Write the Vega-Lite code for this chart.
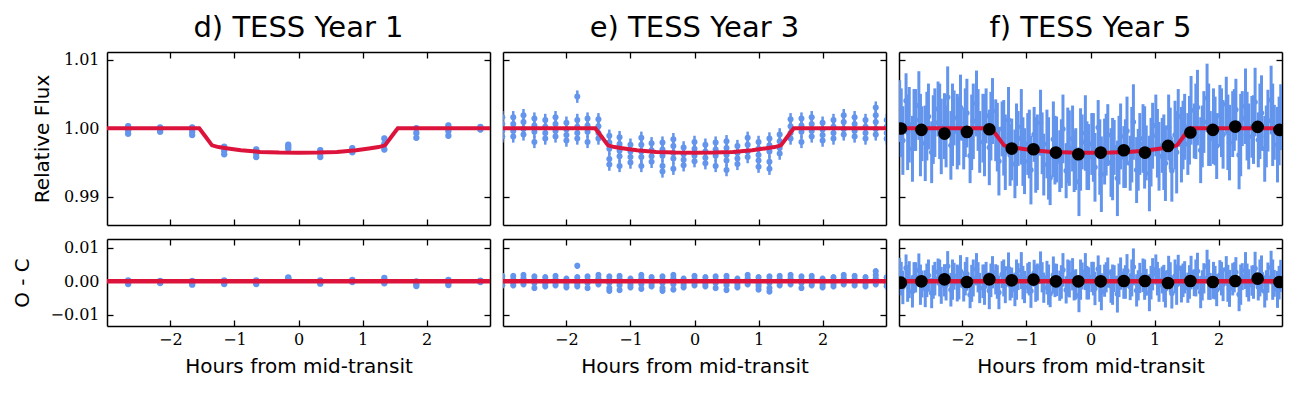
{
"$schema":"https://vega.github.io/schema/vega-lite/v6.json",
"background":"white",
"padding":{"left":12,"top":14,"right":10,"bottom":5},
"datasets":{
"model":[{"x":-3.0,"f":1.0,"r":0},{"x":-1.55,"f":1.0,"r":0},{"x":-1.45,"f":0.99875,"r":0},{"x":-1.35,"f":0.9975,"r":0},{"x":-1.25,"f":0.99725,"r":0},{"x":-1.1,"f":0.99705,"r":0},{"x":-0.9,"f":0.9968,"r":0},{"x":-0.6,"f":0.99655,"r":0},{"x":-0.3,"f":0.99645,"r":0},{"x":0,"f":0.99642,"r":0},{"x":0.3,"f":0.99645,"r":0},{"x":0.6,"f":0.99655,"r":0},{"x":0.9,"f":0.9968,"r":0},{"x":1.1,"f":0.99705,"r":0},{"x":1.25,"f":0.99725,"r":0},{"x":1.35,"f":0.9975,"r":0},{"x":1.45,"f":0.99875,"r":0},{"x":1.55,"f":1.0,"r":0},{"x":3.0,"f":1.0,"r":0}],
"y1":[{"x":-2.66,"f":1.0003,"r":0.0003,"e":0.0004},{"x":-2.66,"f":0.9997,"r":-0.0003,"e":0.0004},{"x":-2.66,"f":0.9992,"r":-0.0008,"e":0.0004},
{"x":-2.16,"f":1.0001,"r":0.0001,"e":0.0004},{"x":-2.16,"f":0.9998,"r":-0.0002,"e":0.0004},{"x":-2.16,"f":0.9995,"r":-0.0005,"e":0.0004},
{"x":-1.66,"f":1.0001,"r":0.0001,"e":0.0004},{"x":-1.66,"f":0.9995,"r":-0.0005,"e":0.0004},{"x":-1.66,"f":0.999,"r":-0.001,"e":0.0004},
{"x":-1.16,"f":0.9973,"r":0.0003,"e":0.0004},{"x":-1.16,"f":0.9967,"r":-0.0003,"e":0.0004},{"x":-1.16,"f":0.9962,"r":-0.0008,"e":0.0004},
{"x":-0.66,"f":0.9969,"r":0.0003,"e":0.0004},{"x":-0.66,"f":0.9963,"r":-0.0003,"e":0.0004},{"x":-0.66,"f":0.9958,"r":-0.0008,"e":0.0004},
{"x":-0.16,"f":0.9976,"r":0.0012,"e":0.0004},{"x":-0.16,"f":0.9973,"r":0.0009,"e":0.0004},{"x":-0.16,"f":0.997,"r":0.0006,"e":0.0004},
{"x":0.34,"f":0.9968,"r":0.0003,"e":0.0004},{"x":0.34,"f":0.9963,"r":-0.0002,"e":0.0004},{"x":0.34,"f":0.9958,"r":-0.0007,"e":0.0004},
{"x":0.84,"f":0.9971,"r":0.0004,"e":0.0004},{"x":0.84,"f":0.9968,"r":0.0001,"e":0.0004},{"x":0.84,"f":0.9965,"r":-0.0002,"e":0.0004},
{"x":1.34,"f":0.9985,"r":0.001,"e":0.0004},{"x":1.34,"f":0.9977,"r":0.0002,"e":0.0004},{"x":1.34,"f":0.9969,"r":-0.0006,"e":0.0004},
{"x":1.84,"f":1.0,"r":0.0,"e":0.0004},{"x":1.84,"f":0.9993,"r":-0.0007,"e":0.0004},{"x":1.84,"f":0.9986,"r":-0.0014,"e":0.0004},
{"x":2.34,"f":1.0004,"r":0.0004,"e":0.0004},{"x":2.34,"f":0.9996,"r":-0.0004,"e":0.0004},{"x":2.34,"f":0.9989,"r":-0.0011,"e":0.0004},
{"x":2.84,"f":1.0002,"r":0.0002,"e":0.0004},{"x":2.84,"f":1.0,"r":0.0,"e":0.0004},{"x":2.84,"f":0.9998,"r":-0.0002,"e":0.0004}],
"y3":[
{"x":-3,"f":1.0016,"r":0.0016,"e":0.0009},{"x":-3,"f":1.0006,"r":0.0006,"e":0.0009},{"x":-3,"f":0.9996,"r":-0.0004,"e":0.0009},{"x":-3,"f":0.9988,"r":-0.0012,"e":0.0009},
{"x":-2.83,"f":1.0016,"r":0.0016,"e":0.0009},{"x":-2.83,"f":1.0006,"r":0.0006,"e":0.0009},{"x":-2.83,"f":0.9996,"r":-0.0004,"e":0.0009},{"x":-2.83,"f":0.9988,"r":-0.0012,"e":0.0009},
{"x":-2.67,"f":1.0019,"r":0.0019,"e":0.0009},{"x":-2.67,"f":1.0009,"r":0.0009,"e":0.0009},{"x":-2.67,"f":0.9999,"r":-0.0001,"e":0.0009},{"x":-2.67,"f":0.9991,"r":-0.0009,"e":0.0009},
{"x":-2.5,"f":1.0014,"r":0.0014,"e":0.0009},{"x":-2.5,"f":1.0004,"r":0.0004,"e":0.0009},{"x":-2.5,"f":0.9995,"r":-0.0005,"e":0.0009},{"x":-2.5,"f":0.998,"r":-0.002,"e":0.0009},
{"x":-2.33,"f":1.0012,"r":0.0012,"e":0.0009},{"x":-2.33,"f":1.0002,"r":0.0002,"e":0.0009},{"x":-2.33,"f":0.9993,"r":-0.0007,"e":0.0009},{"x":-2.33,"f":0.9985,"r":-0.0015,"e":0.0009},
{"x":-2.17,"f":1.0016,"r":0.0016,"e":0.0009},{"x":-2.17,"f":1.0006,"r":0.0006,"e":0.0009},{"x":-2.17,"f":0.9996,"r":-0.0004,"e":0.0009},{"x":-2.17,"f":0.9988,"r":-0.0012,"e":0.0009},
{"x":-2.0,"f":1.0008,"r":0.0008,"e":0.0009},{"x":-2.0,"f":0.9998,"r":-0.0002,"e":0.0009},{"x":-2.0,"f":0.999,"r":-0.001,"e":0.0009},{"x":-2.0,"f":0.9982,"r":-0.0018,"e":0.0009},
{"x":-1.83,"f":1.0012,"r":0.0012,"e":0.0009},{"x":-1.83,"f":1.0002,"r":0.0002,"e":0.0009},{"x":-1.83,"f":0.9993,"r":-0.0007,"e":0.0009},{"x":-1.83,"f":0.9985,"r":-0.0015,"e":0.0009},{"x":-1.83,"f":1.0046,"r":0.0046,"e":0.0009},
{"x":-1.67,"f":1.0014,"r":0.0014,"e":0.0009},{"x":-1.67,"f":1.0004,"r":0.0004,"e":0.0009},{"x":-1.67,"f":0.9995,"r":-0.0005,"e":0.0009},{"x":-1.67,"f":0.998,"r":-0.002,"e":0.0009},
{"x":-1.5,"f":1.0013,"r":0.0019,"e":0.0009},{"x":-1.5,"f":1.0003,"r":0.0009,"e":0.0009},{"x":-1.5,"f":0.9993,"r":-0.0001,"e":0.0009},{"x":-1.5,"f":0.9985,"r":-0.0009,"e":0.0009},
{"x":-1.33,"f":0.9989,"r":0.0014,"e":0.0009},{"x":-1.33,"f":0.9979,"r":0.0004,"e":0.0009},{"x":-1.33,"f":0.997,"r":-0.0005,"e":0.0009},{"x":-1.33,"f":0.9955,"r":-0.002,"e":0.0009},{"x":-1.33,"f":0.9947,"r":-0.0028,"e":0.0009},
{"x":-1.17,"f":0.9987,"r":0.0016,"e":0.0009},{"x":-1.17,"f":0.9977,"r":0.0006,"e":0.0009},{"x":-1.17,"f":0.9967,"r":-0.0004,"e":0.0009},{"x":-1.17,"f":0.9959,"r":-0.0012,"e":0.0009},{"x":-1.17,"f":0.9945,"r":-0.0026,"e":0.0009},
{"x":-1.0,"f":0.9976,"r":0.0008,"e":0.0009},{"x":-1.0,"f":0.9966,"r":-0.0002,"e":0.0009},{"x":-1.0,"f":0.9958,"r":-0.001,"e":0.0009},{"x":-1.0,"f":0.995,"r":-0.0018,"e":0.0009},
{"x":-0.83,"f":0.9986,"r":0.0019,"e":0.0009},{"x":-0.83,"f":0.9976,"r":0.0009,"e":0.0009},{"x":-0.83,"f":0.9966,"r":-0.0001,"e":0.0009},{"x":-0.83,"f":0.9958,"r":-0.0009,"e":0.0009},{"x":-0.83,"f":0.9945,"r":-0.0022,"e":0.0009},
{"x":-0.67,"f":0.9978,"r":0.0012,"e":0.0009},{"x":-0.67,"f":0.9968,"r":0.0002,"e":0.0009},{"x":-0.67,"f":0.9959,"r":-0.0007,"e":0.0009},{"x":-0.67,"f":0.9951,"r":-0.0015,"e":0.0009},
{"x":-0.5,"f":0.9979,"r":0.0014,"e":0.0009},{"x":-0.5,"f":0.9969,"r":0.0004,"e":0.0009},{"x":-0.5,"f":0.996,"r":-0.0005,"e":0.0009},{"x":-0.5,"f":0.9945,"r":-0.002,"e":0.0009},{"x":-0.5,"f":0.9937,"r":-0.0028,"e":0.0009},
{"x":-0.33,"f":0.9984,"r":0.0019,"e":0.0009},{"x":-0.33,"f":0.9974,"r":0.0009,"e":0.0009},{"x":-0.33,"f":0.9964,"r":-0.0001,"e":0.0009},{"x":-0.33,"f":0.9956,"r":-0.0009,"e":0.0009},{"x":-0.33,"f":0.9941,"r":-0.0024,"e":0.0009},
{"x":-0.17,"f":0.9972,"r":0.0008,"e":0.0009},{"x":-0.17,"f":0.9962,"r":-0.0002,"e":0.0009},{"x":-0.17,"f":0.9954,"r":-0.001,"e":0.0009},{"x":-0.17,"f":0.9946,"r":-0.0018,"e":0.0009},
{"x":0.0,"f":0.998,"r":0.0016,"e":0.0009},{"x":0.0,"f":0.997,"r":0.0006,"e":0.0009},{"x":0.0,"f":0.996,"r":-0.0004,"e":0.0009},{"x":0.0,"f":0.9952,"r":-0.0012,"e":0.0009},
{"x":0.17,"f":0.9976,"r":0.0012,"e":0.0009},{"x":0.17,"f":0.9966,"r":0.0002,"e":0.0009},{"x":0.17,"f":0.9957,"r":-0.0007,"e":0.0009},{"x":0.17,"f":0.9949,"r":-0.0015,"e":0.0009},
{"x":0.33,"f":0.9979,"r":0.0014,"e":0.0009},{"x":0.33,"f":0.9969,"r":0.0004,"e":0.0009},{"x":0.33,"f":0.996,"r":-0.0005,"e":0.0009},{"x":0.33,"f":0.9945,"r":-0.002,"e":0.0009},
{"x":0.5,"f":0.9981,"r":0.0016,"e":0.0009},{"x":0.5,"f":0.9971,"r":0.0006,"e":0.0009},{"x":0.5,"f":0.9961,"r":-0.0004,"e":0.0009},{"x":0.5,"f":0.9953,"r":-0.0012,"e":0.0009},{"x":0.5,"f":0.9939,"r":-0.0026,"e":0.0009},
{"x":0.67,"f":0.9974,"r":0.0008,"e":0.0009},{"x":0.67,"f":0.9964,"r":-0.0002,"e":0.0009},{"x":0.67,"f":0.9956,"r":-0.001,"e":0.0009},{"x":0.67,"f":0.9948,"r":-0.0018,"e":0.0009},
{"x":0.83,"f":0.9986,"r":0.0019,"e":0.0009},{"x":0.83,"f":0.9976,"r":0.0009,"e":0.0009},{"x":0.83,"f":0.9966,"r":-0.0001,"e":0.0009},{"x":0.83,"f":0.9958,"r":-0.0009,"e":0.0009},
{"x":1.0,"f":0.998,"r":0.0012,"e":0.0009},{"x":1.0,"f":0.997,"r":0.0002,"e":0.0009},{"x":1.0,"f":0.9961,"r":-0.0007,"e":0.0009},{"x":1.0,"f":0.9953,"r":-0.0015,"e":0.0009},{"x":1.0,"f":0.9944,"r":-0.0024,"e":0.0009},
{"x":1.17,"f":0.9985,"r":0.0014,"e":0.0009},{"x":1.17,"f":0.9975,"r":0.0004,"e":0.0009},{"x":1.17,"f":0.9966,"r":-0.0005,"e":0.0009},{"x":1.17,"f":0.9951,"r":-0.002,"e":0.0009},{"x":1.17,"f":0.9941,"r":-0.003,"e":0.0009},
{"x":1.33,"f":0.9991,"r":0.0016,"e":0.0009},{"x":1.33,"f":0.9981,"r":0.0006,"e":0.0009},{"x":1.33,"f":0.9971,"r":-0.0004,"e":0.0009},{"x":1.33,"f":0.9963,"r":-0.0012,"e":0.0009},
{"x":1.5,"f":1.0013,"r":0.0019,"e":0.0009},{"x":1.5,"f":1.0003,"r":0.0009,"e":0.0009},{"x":1.5,"f":0.9993,"r":-0.0001,"e":0.0009},{"x":1.5,"f":0.9985,"r":-0.0009,"e":0.0009},
{"x":1.67,"f":1.0014,"r":0.0014,"e":0.0009},{"x":1.67,"f":1.0004,"r":0.0004,"e":0.0009},{"x":1.67,"f":0.9995,"r":-0.0005,"e":0.0009},{"x":1.67,"f":0.998,"r":-0.002,"e":0.0009},
{"x":1.83,"f":1.0016,"r":0.0016,"e":0.0009},{"x":1.83,"f":1.0006,"r":0.0006,"e":0.0009},{"x":1.83,"f":0.9996,"r":-0.0004,"e":0.0009},{"x":1.83,"f":0.9988,"r":-0.0012,"e":0.0009},
{"x":2.0,"f":1.0008,"r":0.0008,"e":0.0009},{"x":2.0,"f":0.9998,"r":-0.0002,"e":0.0009},{"x":2.0,"f":0.999,"r":-0.001,"e":0.0009},{"x":2.0,"f":0.9982,"r":-0.0018,"e":0.0009},
{"x":2.17,"f":1.0012,"r":0.0012,"e":0.0009},{"x":2.17,"f":1.0002,"r":0.0002,"e":0.0009},{"x":2.17,"f":0.9993,"r":-0.0007,"e":0.0009},{"x":2.17,"f":0.9985,"r":-0.0015,"e":0.0009},
{"x":2.33,"f":1.0019,"r":0.0019,"e":0.0009},{"x":2.33,"f":1.0009,"r":0.0009,"e":0.0009},{"x":2.33,"f":0.9999,"r":-0.0001,"e":0.0009},{"x":2.33,"f":0.9991,"r":-0.0009,"e":0.0009},
{"x":2.5,"f":1.0016,"r":0.0016,"e":0.0009},{"x":2.5,"f":1.0006,"r":0.0006,"e":0.0009},{"x":2.5,"f":0.9996,"r":-0.0004,"e":0.0009},{"x":2.5,"f":0.9988,"r":-0.0012,"e":0.0009},
{"x":2.67,"f":1.0012,"r":0.0012,"e":0.0009},{"x":2.67,"f":1.0002,"r":0.0002,"e":0.0009},{"x":2.67,"f":0.9993,"r":-0.0007,"e":0.0009},{"x":2.67,"f":0.9985,"r":-0.0015,"e":0.0009},
{"x":2.83,"f":1.0019,"r":0.0019,"e":0.0009},{"x":2.83,"f":1.0009,"r":0.0009,"e":0.0009},{"x":2.83,"f":0.9999,"r":-0.0001,"e":0.0009},{"x":2.83,"f":0.9991,"r":-0.0009,"e":0.0009},{"x":2.83,"f":1.003,"r":0.003,"e":0.0009},
{"x":3.0,"f":1.0012,"r":0.0012,"e":0.0009},{"x":3.0,"f":1.0002,"r":0.0002,"e":0.0009},{"x":3.0,"f":0.9993,"r":-0.0007,"e":0.0009},{"x":3.0,"f":0.9985,"r":-0.0015,"e":0.0009}],
"y5":[
{"x":-2.98,"f":1.0025,"r":0.0025,"e":0.0045},{"x":-2.93,"f":0.9982,"r":-0.0018,"e":0.005},{"x":-2.88,"f":1.004,"r":0.004,"e":0.004},{"x":-2.83,"f":1.0005,"r":0.0005,"e":0.0055},{"x":-2.78,"f":0.997,"r":-0.003,"e":0.0048},{"x":-2.73,"f":1.0012,"r":0.0012,"e":0.0045},{"x":-2.68,"f":1.0033,"r":0.0033,"e":0.005},{"x":-2.63,"f":0.9992,"r":-0.0008,"e":0.004},{"x":-2.58,"f":0.9978,"r":-0.0022,"e":0.0055},{"x":-2.53,"f":1.0017,"r":0.0017,"e":0.0048},
{"x":-2.48,"f":0.9965,"r":-0.0035,"e":0.0045},{"x":-2.43,"f":1.0008,"r":0.0008,"e":0.005},{"x":-2.38,"f":1.0028,"r":0.0028,"e":0.004},{"x":-2.33,"f":0.9988,"r":-0.0012,"e":0.0055},{"x":-2.28,"f":1.0003,"r":0.0003,"e":0.0048},{"x":-2.23,"f":1.0045,"r":0.0045,"e":0.0045},{"x":-2.18,"f":0.9975,"r":-0.0025,"e":0.005},{"x":-2.13,"f":1.0015,"r":0.0015,"e":0.004},{"x":-2.08,"f":0.9995,"r":-0.0005,"e":0.0055},{"x":-2.03,"f":1.003,"r":0.003,"e":0.0048},
{"x":-1.98,"f":0.9985,"r":-0.0015,"e":0.0045},{"x":-1.93,"f":1.0022,"r":0.0022,"e":0.005},{"x":-1.88,"f":0.996,"r":-0.004,"e":0.004},{"x":-1.83,"f":1.001,"r":0.001,"e":0.0055},{"x":-1.78,"f":1.0036,"r":0.0036,"e":0.0048},{"x":-1.73,"f":0.998,"r":-0.002,"e":0.0045},{"x":-1.68,"f":1.0,"r":0.0,"e":0.005},{"x":-1.63,"f":1.0018,"r":0.0018,"e":0.004},{"x":-1.58,"f":0.9972,"r":-0.0028,"e":0.0055},{"x":-1.53,"f":1.0025,"r":0.0027,"e":0.0048},
{"x":-1.48,"f":0.9997,"r":0.0006,"e":0.0045},{"x":-1.43,"f":0.9952,"r":-0.0033,"e":0.005},{"x":-1.38,"f":0.9999,"r":0.002,"e":0.004},{"x":-1.33,"f":0.9965,"r":-0.001,"e":0.0055},{"x":-1.28,"f":1.0012,"r":0.0038,"e":0.0048},{"x":-1.23,"f":0.9969,"r":-0.0004,"e":0.0045},{"x":-1.18,"f":0.9948,"r":-0.0024,"e":0.005},{"x":-1.13,"f":0.9985,"r":0.0014,"e":0.004},{"x":-1.08,"f":1.0002,"r":0.0032,"e":0.0055},{"x":-1.03,"f":0.9952,"r":-0.0017,"e":0.0048},
{"x":-0.98,"f":0.9977,"r":0.0009,"e":0.0045},{"x":-0.93,"f":0.9939,"r":-0.0029,"e":0.005},{"x":-0.88,"f":0.9991,"r":0.0024,"e":0.004},{"x":-0.83,"f":0.9965,"r":-0.0002,"e":0.0055},{"x":-0.78,"f":1.0008,"r":0.0041,"e":0.0048},{"x":-0.73,"f":0.9947,"r":-0.0019,"e":0.0045},{"x":-0.68,"f":0.9977,"r":0.0011,"e":0.005},{"x":-0.63,"f":0.9928,"r":-0.0037,"e":0.004},{"x":-0.58,"f":0.9984,"r":0.0019,"e":0.0055},{"x":-0.53,"f":0.9969,"r":0.0004,"e":0.0048},
{"x":-0.48,"f":0.9952,"r":-0.0013,"e":0.0045},{"x":-0.43,"f":0.9999,"r":0.0034,"e":0.005},{"x":-0.38,"f":0.9938,"r":-0.0026,"e":0.004},{"x":-0.33,"f":0.9971,"r":0.0007,"e":0.0055},{"x":-0.28,"f":0.9985,"r":0.0021,"e":0.0048},{"x":-0.23,"f":0.9955,"r":-0.0009,"e":0.0045},{"x":-0.18,"f":0.9922,"r":-0.0042,"e":0.005},{"x":-0.13,"f":0.998,"r":0.0016,"e":0.004},{"x":-0.08,"f":0.9993,"r":0.0029,"e":0.0055},{"x":-0.03,"f":0.9958,"r":-0.0006,"e":0.0048},
{"x":0.02,"f":0.9977,"r":0.0013,"e":0.0045},{"x":0.07,"f":0.9943,"r":-0.0021,"e":0.005},{"x":0.12,"f":1.0001,"r":0.0037,"e":0.004},{"x":0.17,"f":0.9933,"r":-0.0031,"e":0.0055},{"x":0.22,"f":0.9966,"r":0.0002,"e":0.0048},{"x":0.27,"f":0.999,"r":0.0026,"e":0.0045},{"x":0.32,"f":0.995,"r":-0.0014,"e":0.005},{"x":0.37,"f":0.9972,"r":0.0008,"e":0.004},{"x":0.42,"f":0.9927,"r":-0.0038,"e":0.0055},{"x":0.47,"f":0.9988,"r":0.0023,"e":0.0048},
{"x":0.52,"f":0.9958,"r":-0.0007,"e":0.0045},{"x":0.57,"f":0.9996,"r":0.0031,"e":0.005},{"x":0.62,"f":0.9949,"r":-0.0016,"e":0.004},{"x":0.67,"f":1.0009,"r":0.0043,"e":0.0055},{"x":0.72,"f":0.9939,"r":-0.0027,"e":0.0048},{"x":0.77,"f":0.9977,"r":0.001,"e":0.0045},{"x":0.82,"f":0.9985,"r":0.0018,"e":0.005},{"x":0.87,"f":0.9964,"r":-0.0003,"e":0.004},{"x":0.92,"f":0.9934,"r":-0.0034,"e":0.0055},{"x":0.97,"f":0.9989,"r":0.0021,"e":0.0048},
{"x":1.02,"f":1.0004,"r":0.0035,"e":0.0045},{"x":1.07,"f":0.9959,"r":-0.0011,"e":0.005},{"x":1.12,"f":0.9975,"r":0.0004,"e":0.004},{"x":1.17,"f":0.9949,"r":-0.0023,"e":0.0055},{"x":1.22,"f":1.0001,"r":0.0028,"e":0.0048},{"x":1.27,"f":0.9938,"r":-0.0036,"e":0.0045},{"x":1.32,"f":0.999,"r":0.0015,"e":0.005},{"x":1.37,"f":1.0017,"r":0.0039,"e":0.004},{"x":1.42,"f":0.9976,"r":-0.0008,"e":0.0055},{"x":1.47,"f":1.0002,"r":0.0012,"e":0.0048},
{"x":1.52,"f":0.9977,"r":-0.0019,"e":0.0045},{"x":1.57,"f":1.0026,"r":0.0026,"e":0.005},{"x":1.62,"f":0.9996,"r":-0.0004,"e":0.004},{"x":1.67,"f":1.003,"r":0.003,"e":0.0055},{"x":1.72,"f":0.9968,"r":-0.0032,"e":0.0048},{"x":1.77,"f":1.0009,"r":0.0009,"e":0.0045},{"x":1.82,"f":1.0044,"r":0.0044,"e":0.005},{"x":1.87,"f":0.9985,"r":-0.0015,"e":0.004},{"x":1.92,"f":1.0003,"r":0.0003,"e":0.0055},{"x":1.97,"f":0.9974,"r":-0.0026,"e":0.0048},
{"x":2.02,"f":1.0018,"r":0.0018,"e":0.0045},{"x":2.07,"f":0.9991,"r":-0.0009,"e":0.005},{"x":2.12,"f":1.0035,"r":0.0035,"e":0.004},{"x":2.17,"f":0.9979,"r":-0.0021,"e":0.0055},{"x":2.22,"f":1.0006,"r":0.0006,"e":0.0048},{"x":2.27,"f":1.0027,"r":0.0027,"e":0.0045},{"x":2.32,"f":0.9961,"r":-0.0039,"e":0.005},{"x":2.37,"f":1.0014,"r":0.0014,"e":0.004},{"x":2.42,"f":1.0032,"r":0.0032,"e":0.0055},{"x":2.47,"f":0.9988,"r":-0.0012,"e":0.0048},
{"x":2.52,"f":1.0002,"r":0.0002,"e":0.0045},{"x":2.57,"f":1.0038,"r":0.0038,"e":0.005},{"x":2.62,"f":0.9983,"r":-0.0017,"e":0.004},{"x":2.67,"f":1.0022,"r":0.0022,"e":0.0055},{"x":2.72,"f":0.997,"r":-0.003,"e":0.0048},{"x":2.77,"f":1.0011,"r":0.0011,"e":0.0045},{"x":2.82,"f":1.0041,"r":0.0041,"e":0.005},{"x":2.87,"f":0.9994,"r":-0.0006,"e":0.004},{"x":2.92,"f":0.9976,"r":-0.0024,"e":0.0055},{"x":2.97,"f":1.0016,"r":0.0016,"e":0.0048},
{"x":-2.955,"f":1.0008,"r":0.0008,"e":0.005},{"x":-2.855,"f":0.9994,"r":-0.0006,"e":0.0055},{"x":-2.755,"f":1.0012,"r":0.0012,"e":0.0045},{"x":-2.655,"f":0.999,"r":-0.001,"e":0.006},{"x":-2.555,"f":1.0003,"r":0.0003,"e":0.005},
{"x":-2.455,"f":0.9998,"r":-0.0002,"e":0.005},{"x":-2.355,"f":1.001,"r":0.001,"e":0.0055},{"x":-2.255,"f":0.9988,"r":-0.0012,"e":0.0045},{"x":-2.155,"f":1.0005,"r":0.0005,"e":0.006},{"x":-2.055,"f":0.9996,"r":-0.0004,"e":0.005},
{"x":-1.955,"f":1.0008,"r":0.0008,"e":0.005},{"x":-1.855,"f":0.9994,"r":-0.0006,"e":0.0055},{"x":-1.755,"f":1.0012,"r":0.0012,"e":0.0045},{"x":-1.655,"f":0.999,"r":-0.001,"e":0.006},{"x":-1.555,"f":1.0003,"r":0.0003,"e":0.005},
{"x":-1.455,"f":0.9987,"r":-0.0002,"e":0.005},{"x":-1.355,"f":0.9986,"r":0.001,"e":0.0055},{"x":-1.255,"f":0.9961,"r":-0.0012,"e":0.0045},{"x":-1.155,"f":0.9976,"r":0.0005,"e":0.006},{"x":-1.055,"f":0.9966,"r":-0.0004,"e":0.005},
{"x":-0.955,"f":0.9977,"r":0.0008,"e":0.005},{"x":-0.855,"f":0.9961,"r":-0.0006,"e":0.0055},{"x":-0.755,"f":0.9978,"r":0.0012,"e":0.0045},{"x":-0.655,"f":0.9956,"r":-0.001,"e":0.006},{"x":-0.555,"f":0.9968,"r":0.0003,"e":0.005},
{"x":-0.455,"f":0.9963,"r":-0.0002,"e":0.005},{"x":-0.355,"f":0.9975,"r":0.001,"e":0.0055},{"x":-0.255,"f":0.9952,"r":-0.0012,"e":0.0045},{"x":-0.155,"f":0.9969,"r":0.0005,"e":0.006},{"x":-0.055,"f":0.996,"r":-0.0004,"e":0.005},
{"x":0.045,"f":0.9972,"r":0.0008,"e":0.005},{"x":0.145,"f":0.9958,"r":-0.0006,"e":0.0055},{"x":0.245,"f":0.9976,"r":0.0012,"e":0.0045},{"x":0.345,"f":0.9955,"r":-0.001,"e":0.006},{"x":0.445,"f":0.9968,"r":0.0003,"e":0.005},
{"x":0.545,"f":0.9963,"r":-0.0002,"e":0.005},{"x":0.645,"f":0.9976,"r":0.001,"e":0.0055},{"x":0.745,"f":0.9954,"r":-0.0012,"e":0.0045},{"x":0.845,"f":0.9972,"r":0.0005,"e":0.006},{"x":0.945,"f":0.9965,"r":-0.0004,"e":0.005},
{"x":1.045,"f":0.9978,"r":0.0008,"e":0.005},{"x":1.145,"f":0.9965,"r":-0.0006,"e":0.0055},{"x":1.245,"f":0.9985,"r":0.0012,"e":0.0045},{"x":1.345,"f":0.9965,"r":-0.001,"e":0.006},{"x":1.445,"f":0.999,"r":0.0003,"e":0.005},
{"x":1.545,"f":0.9997,"r":-0.0002,"e":0.005},{"x":1.645,"f":1.001,"r":0.001,"e":0.0055},{"x":1.745,"f":0.9988,"r":-0.0012,"e":0.0045},{"x":1.845,"f":1.0005,"r":0.0005,"e":0.006},{"x":1.945,"f":0.9996,"r":-0.0004,"e":0.005},
{"x":2.045,"f":1.0008,"r":0.0008,"e":0.005},{"x":2.145,"f":0.9994,"r":-0.0006,"e":0.0055},{"x":2.245,"f":1.0012,"r":0.0012,"e":0.0045},{"x":2.345,"f":0.999,"r":-0.001,"e":0.006},{"x":2.445,"f":1.0003,"r":0.0003,"e":0.005},
{"x":2.545,"f":0.9998,"r":-0.0002,"e":0.005},{"x":2.645,"f":1.001,"r":0.001,"e":0.0055},{"x":2.745,"f":0.9988,"r":-0.0012,"e":0.0045},{"x":2.845,"f":1.0005,"r":0.0005,"e":0.006},{"x":2.945,"f":0.9996,"r":-0.0004,"e":0.005}],
"y5b":[{"x":-2.96,"f":0.99995,"r":-0.0004},{"x":-2.64,"f":0.99976,"r":0},{"x":-2.28,"f":0.99922,"r":0.0006},{"x":-1.93,"f":0.99946,"r":-0.0002},{"x":-1.58,"f":0.99985,"r":0.0006},{"x":-1.23,"f":0.99703,"r":0.0003},{"x":-0.89,"f":0.99693,"r":0.0005},{"x":-0.54,"f":0.99645,"r":0},{"x":-0.19,"f":0.9962,"r":0},{"x":0.16,"f":0.99645,"r":0},{"x":0.52,"f":0.99679,"r":0.0001},{"x":0.85,"f":0.99645,"r":0.0001},{"x":1.21,"f":0.99742,"r":-0.0005},{"x":1.56,"f":0.99937,"r":0.0001},{"x":1.91,"f":0.99976,"r":-0.0002},{"x":2.26,"f":1.00024,"r":0.0001},{"x":2.61,"f":1.00019,"r":0.0008},{"x":2.95,"f":0.99976,"r":-0.0002}]
},
"columns":3,
"spacing":{"row":14,"column":13},
"bounds":"flush",
"concat":[
{"width":383,"height":173,"title":{"text":"d) TESS Year 1"},
"layer":[
{"data":{"name":"y1"},"mark":{"type":"errorbar","color":"#6495ED","thickness":2.5,"clip":true},
"encoding":{"x":{"field":"x","type":"quantitative","scale":{"domain":[-2.99,2.99],"nice":false,"zero":false},"axis":{"orient":"bottom","values":[-2,-1,0,1,2],"labels":false,"title":null}},
"y":{"field":"f","type":"quantitative","scale":{"domain":[0.9859,1.0111],"nice":false,"zero":false},"axis":{"orient":"left","values":[0.99,1.0,1.01],"format":".2f","title":"Relative Flux","titlePadding":11}},
"yError":{"field":"e"}}},
{"data":{"name":"y1"},"mark":{"type":"circle","color":"#6495ED","size":40,"opacity":1,"clip":true},
"encoding":{"x":{"field":"x","type":"quantitative","axis":null},"y":{"field":"f","type":"quantitative","axis":null}}},
{"data":{"name":"model"},"mark":{"type":"line","color":"#DC143C","strokeWidth":4,"clip":true},
"encoding":{"x":{"field":"x","type":"quantitative","axis":{"orient":"top","values":[-2,-1,0,1,2],"labels":false,"title":null}},"y":{"field":"f","type":"quantitative","axis":{"orient":"right","values":[0.99,1.0,1.01],"labels":false,"title":null}}}}
],
"resolve":{"axis":{"x":"independent","y":"independent"}}},
{"width":383,"height":173,"title":{"text":"e) TESS Year 3"},
"layer":[
{"data":{"name":"y3"},"mark":{"type":"errorbar","color":"#6495ED","thickness":2.5,"clip":true},
"encoding":{"x":{"field":"x","type":"quantitative","scale":{"domain":[-2.99,2.99],"nice":false,"zero":false},"axis":{"orient":"bottom","values":[-2,-1,0,1,2],"labels":false,"title":null}},
"y":{"field":"f","type":"quantitative","scale":{"domain":[0.9859,1.0111],"nice":false,"zero":false},"axis":{"orient":"left","values":[0.99,1.0,1.01],"labels":false,"title":null}},
"yError":{"field":"e"}}},
{"data":{"name":"y3"},"mark":{"type":"circle","color":"#6495ED","size":36,"opacity":1,"clip":true},
"encoding":{"x":{"field":"x","type":"quantitative","axis":null},"y":{"field":"f","type":"quantitative","axis":null}}},
{"data":{"name":"model"},"mark":{"type":"line","color":"#DC143C","strokeWidth":4,"clip":true},
"encoding":{"x":{"field":"x","type":"quantitative","axis":{"orient":"top","values":[-2,-1,0,1,2],"labels":false,"title":null}},"y":{"field":"f","type":"quantitative","axis":{"orient":"right","values":[0.99,1.0,1.01],"labels":false,"title":null}}}}
],
"resolve":{"axis":{"x":"independent","y":"independent"}}},
{"width":383,"height":173,"title":{"text":"f) TESS Year 5"},
"layer":[
{"data":{"name":"y5"},"mark":{"type":"errorbar","color":"#6495ED","thickness":3,"clip":true},
"encoding":{"x":{"field":"x","type":"quantitative","scale":{"domain":[-2.99,2.99],"nice":false,"zero":false},"axis":{"orient":"bottom","values":[-2,-1,0,1,2],"labels":false,"title":null}},
"y":{"field":"f","type":"quantitative","scale":{"domain":[0.9859,1.0111],"nice":false,"zero":false},"axis":{"orient":"left","values":[0.99,1.0,1.01],"labels":false,"title":null}},
"yError":{"field":"e"}}},
{"data":{"name":"y5"},"mark":{"type":"circle","color":"#6495ED","size":30,"opacity":1,"clip":true},
"encoding":{"x":{"field":"x","type":"quantitative","axis":null},"y":{"field":"f","type":"quantitative","axis":null}}},
{"data":{"name":"model"},"mark":{"type":"line","color":"#DC143C","strokeWidth":4,"clip":true},
"encoding":{"x":{"field":"x","type":"quantitative","axis":{"orient":"top","values":[-2,-1,0,1,2],"labels":false,"title":null}},"y":{"field":"f","type":"quantitative","axis":{"orient":"right","values":[0.99,1.0,1.01],"labels":false,"title":null}}}},
{"data":{"name":"y5b"},"mark":{"type":"circle","color":"black","size":160,"opacity":1,"clip":true},
"encoding":{"x":{"field":"x","type":"quantitative","axis":null},"y":{"field":"f","type":"quantitative","axis":null}}}
],
"resolve":{"axis":{"x":"independent","y":"independent"}}},
{"width":383,"height":87,
"layer":[
{"data":{"name":"y1"},"mark":{"type":"errorbar","color":"#6495ED","thickness":2.5,"clip":true},
"encoding":{"x":{"field":"x","type":"quantitative","scale":{"domain":[-2.99,2.99],"nice":false,"zero":false},"axis":{"orient":"bottom","values":[-2,-1,0,1,2],"format":"d","title":"Hours from mid-transit"}},
"y":{"field":"r","type":"quantitative","scale":{"domain":[-0.0133,0.0126],"nice":false,"zero":false},"axis":{"orient":"left","values":[-0.01,0,0.01],"format":".2f","title":"O - C","titlePadding":17}},
"yError":{"field":"e"}}},
{"data":{"name":"y1"},"mark":{"type":"circle","color":"#6495ED","size":40,"opacity":1,"clip":true},
"encoding":{"x":{"field":"x","type":"quantitative","axis":null},"y":{"field":"r","type":"quantitative","axis":null}}},
{"data":{"name":"model"},"mark":{"type":"line","color":"#DC143C","strokeWidth":4.5,"clip":true},
"encoding":{"x":{"field":"x","type":"quantitative","axis":{"orient":"top","values":[-2,-1,0,1,2],"labels":false,"title":null}},"y":{"field":"r","type":"quantitative","axis":{"orient":"right","values":[-0.01,0,0.01],"labels":false,"title":null}}}}
],
"resolve":{"axis":{"x":"independent","y":"independent"}}},
{"width":383,"height":87,
"layer":[
{"data":{"name":"y3"},"mark":{"type":"errorbar","color":"#6495ED","thickness":2.5,"clip":true},
"encoding":{"x":{"field":"x","type":"quantitative","scale":{"domain":[-2.99,2.99],"nice":false,"zero":false},"axis":{"orient":"bottom","values":[-2,-1,0,1,2],"format":"d","title":"Hours from mid-transit"}},
"y":{"field":"r","type":"quantitative","scale":{"domain":[-0.0133,0.0126],"nice":false,"zero":false},"axis":{"orient":"left","values":[-0.01,0,0.01],"labels":false,"title":null}},
"yError":{"field":"e"}}},
{"data":{"name":"y3"},"mark":{"type":"circle","color":"#6495ED","size":36,"opacity":1,"clip":true},
"encoding":{"x":{"field":"x","type":"quantitative","axis":null},"y":{"field":"r","type":"quantitative","axis":null}}},
{"data":{"name":"model"},"mark":{"type":"line","color":"#DC143C","strokeWidth":4.5,"clip":true},
"encoding":{"x":{"field":"x","type":"quantitative","axis":{"orient":"top","values":[-2,-1,0,1,2],"labels":false,"title":null}},"y":{"field":"r","type":"quantitative","axis":{"orient":"right","values":[-0.01,0,0.01],"labels":false,"title":null}}}}
],
"resolve":{"axis":{"x":"independent","y":"independent"}}},
{"width":383,"height":87,
"layer":[
{"data":{"name":"y5"},"mark":{"type":"errorbar","color":"#6495ED","thickness":3,"clip":true},
"encoding":{"x":{"field":"x","type":"quantitative","scale":{"domain":[-2.99,2.99],"nice":false,"zero":false},"axis":{"orient":"bottom","values":[-2,-1,0,1,2],"format":"d","title":"Hours from mid-transit"}},
"y":{"field":"r","type":"quantitative","scale":{"domain":[-0.0133,0.0126],"nice":false,"zero":false},"axis":{"orient":"left","values":[-0.01,0,0.01],"labels":false,"title":null}},
"yError":{"field":"e"}}},
{"data":{"name":"y5"},"mark":{"type":"circle","color":"#6495ED","size":30,"opacity":1,"clip":true},
"encoding":{"x":{"field":"x","type":"quantitative","axis":null},"y":{"field":"r","type":"quantitative","axis":null}}},
{"data":{"name":"model"},"mark":{"type":"line","color":"#DC143C","strokeWidth":4.5,"clip":true},
"encoding":{"x":{"field":"x","type":"quantitative","axis":{"orient":"top","values":[-2,-1,0,1,2],"labels":false,"title":null}},"y":{"field":"r","type":"quantitative","axis":{"orient":"right","values":[-0.01,0,0.01],"labels":false,"title":null}}}},
{"data":{"name":"y5b"},"mark":{"type":"circle","color":"black","size":160,"opacity":1,"clip":true},
"encoding":{"x":{"field":"x","type":"quantitative","axis":null},"y":{"field":"r","type":"quantitative","axis":null}}}
],
"resolve":{"axis":{"x":"independent","y":"independent"}}}
],
"config":{
"view":{"stroke":null},
"axis":{"domainColor":"black","domainWidth":1.5,"tickColor":"black","tickWidth":1.3,"tickSize":-6,"grid":false,"labelFont":"DejaVu Serif","labelFontSize":16,"labelColor":"black","titleFont":"DejaVu Sans","titleFontSize":20,"titleFontWeight":"normal","titleColor":"black","zindex":1},
"axisX":{"labelPadding":11,"titlePadding":9},
"axisY":{"labelPadding":14,"titlePadding":8},
"title":{"font":"DejaVu Sans","fontSize":29,"fontWeight":"normal","color":"black","offset":8,"anchor":"middle"}
}
}
